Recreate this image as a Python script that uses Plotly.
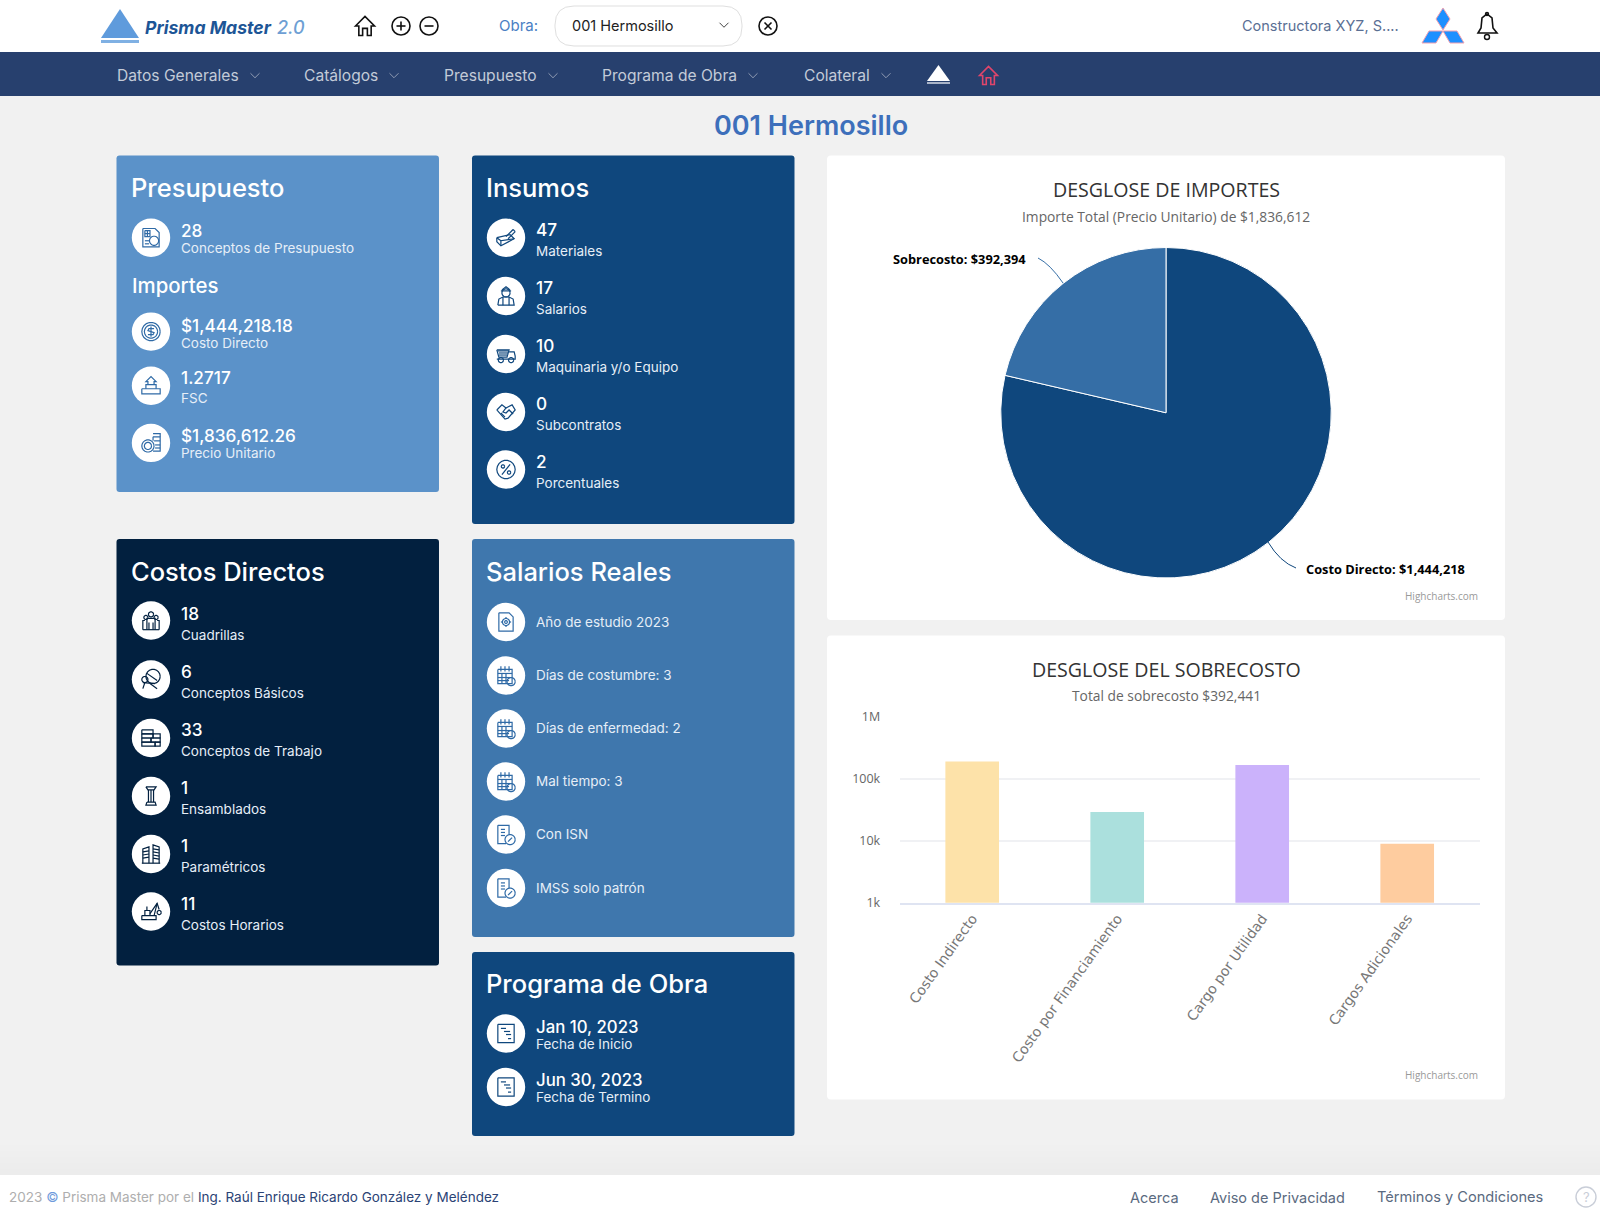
import math
import plotly.graph_objects as go

# ---------- data ----------
pie_labels = ["Costo Directo", "Sobrecosto"]
pie_values = [1444218, 392394]
bar_categories = ["Costo Indirecto", "Costo por Financiamiento", "Cargo por Utilidad", "Cargos Adicionales"]
bar_values = [189000, 29000, 165500, 8941]
bar_ticks = [1000, 10000, 100000, 1000000]
bar_tick_labels = ["1k", "10k", "100k", "1M"]

nav_labels = ["Datos Generales", "Catálogos", "Presupuesto", "Programa de Obra", "Colateral"]
presup_main = ["28", "$1,444,218.18", "1.2717", "$1,836,612.26"]
presup_sub = ["Conceptos de Presupuesto", "Costo Directo", "FSC", "Precio Unitario"]
insumos_main = ["47", "17", "10", "0", "2"]
insumos_sub = ["Materiales", "Salarios", "Maquinaria y/o Equipo", "Subcontratos", "Porcentuales"]
costos_main = ["18", "6", "33", "1", "1", "11"]
costos_sub = ["Cuadrillas", "Conceptos Básicos", "Conceptos de Trabajo", "Ensamblados", "Paramétricos", "Costos Horarios"]
salarios_items = ["Año de estudio 2023", "Días de costumbre: 3", "Días de enfermedad: 2", "Mal tiempo: 3", "Con ISN", "IMSS solo patrón"]
programa_main = ["Jan 10, 2023", "Jun 30, 2023"]
programa_sub = ["Fecha de Inicio", "Fecha de Termino"]

# ---------- page helpers (pixel space -> paper fractions) ----------
W, H = 1600, 1215
FONT = "Inter"
shapes, notes = [], []


def px(x):
    return x / W


def py(y):
    return 1 - y / H


def pt(x, y):
    return f"{px(x):.5f},{py(y):.5f}"


def rrect(x0, y0, x1, y1, fill, r=3, line=None, lw=1):
    d = (f"M{pt(x0 + r, y0)} L{pt(x1 - r, y0)} Q{pt(x1, y0)} {pt(x1, y0 + r)} "
         f"L{pt(x1, y1 - r)} Q{pt(x1, y1)} {pt(x1 - r, y1)} L{pt(x0 + r, y1)} "
         f"Q{pt(x0, y1)} {pt(x0, y1 - r)} L{pt(x0, y0 + r)} Q{pt(x0, y0)} {pt(x0 + r, y0)} Z")
    shapes.append(dict(type="path", path=d, xref="paper", yref="paper", fillcolor=fill,
                       line=dict(color=line or "rgba(0,0,0,0)", width=lw if line else 0), layer="below"))


def circle(cx, cy, r, fill="rgba(0,0,0,0)", line=None, lw=1.4):
    shapes.append(dict(type="circle", xref="paper", yref="paper", x0=px(cx - r), x1=px(cx + r),
                       y0=py(cy + r), y1=py(cy - r), fillcolor=fill,
                       line=dict(color=line or "rgba(0,0,0,0)", width=lw if line else 0), layer="below"))


def poly(points, fill="rgba(0,0,0,0)", line=None, lw=1.2, close=False):
    d = "M" + " L".join(pt(x, y) for x, y in points) + (" Z" if close else "")
    shapes.append(dict(type="path", path=d, xref="paper", yref="paper", fillcolor=fill,
                       line=dict(color=line or "rgba(0,0,0,0)", width=lw if line else 0), layer="below"))


def text(x, y, s, size=14, color="#ffffff", anchor="left", weight=400, family=FONT, angle=0, italic=False):
    if anchor == "left":
        x -= 1.5
    notes.append(dict(x=px(x), y=py(y), xref="paper", yref="paper", text=s, showarrow=False,
                      xanchor=anchor, yanchor="middle", align=anchor, textangle=angle, borderpad=0,
                      font=dict(size=size, color=color, family=family, weight=weight,
                                style="italic" if italic else "normal")))


def chevron(x, y, color, s=4.5):
    poly([(x - s, y - s / 2), (x, y + s / 2), (x + s, y - s / 2)], line=color, lw=1)


def home(x, y, color, s=10, lw=1.6):
    poly([(x - s, y), (x, y - s), (x + s, y), (x + s * .65, y), (x + s * .65, y + s), (x + s * .25, y + s),
          (x + s * .25, y + s * .25), (x - s * .25, y + s * .25), (x - s * .25, y + s), (x - s * .65, y + s),
          (x - s * .65, y)], line=color, lw=lw, close=True)


# ---------- icon glyphs, unit space about -10..10 ----------
def R(a, b, c, d):
    return [(a, b), (c, b), (c, d), (a, d), (a, b)]


def C(cx, cy, r, n=18):
    return [(cx + r * math.cos(2 * math.pi * i / n), cy + r * math.sin(2 * math.pi * i / n)) for i in range(n + 1)]


CAL = [R(-8, -6, 6, 8), [(-8, -2), (6, -2)], [(-8, 2), (4, 2)], [(-8, 5), (3, 5)], [(-4, -2), (-4, 8)], [(0, -2), (0, 8)],
       [(-5, -9), (-5, -4)], [(-1, -9), (-1, -4)], [(3, -9), (3, -4)], C(5, 6, 4)]
DOCCHK = [[(-8, -9), (3, -9), (3, 0)], [(-8, -9), (-8, 9), (0, 9)], [(-5, -5), (-1, -5)], [(-5, -2), (-1, -2)], [(-5, 1), (-1, 1)],
          C(4, 5, 5), [(2, 7), (6, 3)]]
GANTT = [R(-8, -9, 8, 9), [(-5, -5), (0, -5)], [(-2, -2), (4, -2)], [(0, 1), (5, 1)], [(2, 5), (5, 5)]]
ICONS = {
    "budget": [[(-8, -9), (4, -9), (8, -5), (8, 9), (-8, 9), (-8, -9)], R(-6, -7, -1, -1), [(-6, -4), (-1, -4)], [(-3.5, -7), (-3.5, -1)],
               C(3, 3, 4.5), [(-6, 3), (-2, 3)], [(-6, 6), (-2, 6)]],
    "dollar": [C(0, 0, 9), C(0, 0, 6.5), [(3, -3), (-2, -3), (-3, -1), (3, 1), (2, 3), (-3, 3)], [(0, -5), (0, 5)]],
    "scale": [R(-9, 3, 9, 8), [(-5, 3), (-5, -1), (5, -1), (5, 3)], [(-3, -1), (-3, -4), (-5, -4), (0, -9), (5, -4), (3, -4), (3, -1)]],
    "coins": [C(-3, 3, 6), C(-3, 3, 3.5), [(2, -6), (9, -6), (9, 8), (2, 8)], [(2, -6), (2, -2)], [(3, -2), (9, -2)], [(4, 2), (9, 2)], [(4, 5), (9, 5)],
              [(2, -9), (9, -9), (9, -6)]],
    "tools": [[(-9, 0), (4, -3), (8, 1), (-5, 8), (-9, 4), (-9, 0)], [(-5, 8), (-5, 3), (8, 1)], [(-5, 3), (-9, 0)], [(0, -1), (7, -8)], [(2, 1), (9, -6)], [(7, -8), (9, -6)]],
    "worker": [C(0, -3, 4), [(-5, -5), (5, -5)], [(-4, -6), (0, -9), (4, -6)], [(-8, 9), (-7, 3), (-3, 1), (3, 1), (7, 3), (8, 9), (-8, 9)], [(-3, 1), (-3, 9)], [(3, 1), (3, 9)]],
    "truck": [[(-9, -4), (3, -4), (1, 3), (-7, 3), (-9, -4)], [(3, -2), (8, -2), (9, 2), (9, 5), (-9, 5)], C(-5, 6, 2.5), C(5, 6, 2.5), [(-7, -1), (2, -1)], [(-7, 1), (1, 1)], [(-8, -3), (2, -3)]],
    "hands": [[(-9, -2), (-4, -7), (0, -4), (6, -7), (9, -2), (2, 6), (-1, 7), (-9, -2)], [(0, -4), (-3, 0), (0, 1), (3, -2), (7, 2)], [(-5, 1), (-1, 5)]],
    "percent": [C(0, 0, 9), C(-3, -3, 1.6), C(3, 3, 1.6), [(-4, 5), (4, -5)]],
    "people": [C(0, -6, 2.5), C(-5, -3, 2), C(5, -3, 2), [(-4, 9), (-4, -2), (4, -2), (4, 9)], [(-8, 9), (-8, 0), (-6, 0)], [(8, 9), (8, 0), (6, 0)], [(-2, 9), (-2, 2)], [(2, 9), (2, 2)], [(-8, 9), (8, 9)]],
    "mixer": [C(2, -3, 7), [(-4, -6), (6, 1)], C(-6, 0, 3), [(-6, 3), (-8, 9)], [(-1, 4), (6, 9)], [(-8, 3), (4, 4)]],
    "bricks": [R(-9, -8, 2, -4), R(2, -4, 9, 0), R(-9, -4, 2, 0), R(-9, 0, 0, 4), R(0, 0, 9, 4), R(-9, 4, 4, 8), R(4, 4, 9, 8)],
    "column": [[(-5, -9), (5, -9), (3, -6), (-3, -6), (-5, -9)], [(-2.5, -6), (-2.5, 6)], [(2.5, -6), (2.5, 6)], [(0, -6), (0, 6)], [(-4, 6), (4, 6), (5, 9), (-5, 9), (-4, 6)]],
    "towers": [[(-8, 9), (-8, -5), (-2, -7), (-2, 9)], [(2, 9), (2, -9), (8, -7), (8, 9)], [(-8, -2), (-2, -3)], [(-8, 1), (-2, 0)], [(-8, 4), (-2, 3)], [(2, -5), (8, -4)], [(2, -2), (8, -1)], [(2, 1), (8, 2)], [(2, 4), (8, 5)], [(-9, 9), (9, 9)]],
    "crane": [R(-9, 4, 5, 8), [(-6, 4), (-6, -1), (-1, -1), (-1, 4)], [(-1, 2), (6, -8), (8, -2)], C(8, 1, 2), [(3, 4), (6, -8)], [(-4, -1), (-4, -5)]],
    "gear": [[(-7, -9), (3, -9), (7, -5), (7, 9), (-7, 9), (-7, -9)], C(0, 0, 3.5), C(0, 0, 1.3), [(0, -5), (0, -3.5)], [(0, 3.5), (0, 5)], [(-5, 0), (-3.5, 0)], [(3.5, 0), (5, 0)]],
    "cal": CAL,
    "docchk": DOCCHK,
    "gantt": GANTT,
}


def icon(cx, cy, kind, color):
    circle(cx, cy, 19.2, fill="#ffffff")
    for line in ICONS[kind]:
        poly([(cx + x * 1.02, cy + y * 1.02) for x, y in line], line=color, lw=1.2)


# ---------- page chrome ----------
BG = "#f1f1f1"
NAVY = "#27406e"
for i, shade in enumerate(("#f0f0f0", "#efefef", "#eeeeee", "#ededed", "#ececec")):
    rrect(0, 1145 + 6 * i, W, 1175, shade, r=0)
rrect(0, 0, W, 52, "#ffffff", r=0)
rrect(0, 52, W, 96, NAVY, r=0)
rrect(0, 1175, W, H, "#ffffff", r=0)

# logo
poly([(120, 9), (139, 38), (101, 38)], fill="#5f9bdc", close=True)
rrect(101, 40, 139, 43, "#7fb0e3", r=0)
text(145, 27, "Prisma Master", 17.6, "#1d5596", weight=700, italic=True)
text(277, 27, "2.0", 18, "#6e9fd4", weight=500, italic=True)

home(365, 26, "#111111", s=9.5, lw=1.6)
for x in (401, 429):
    circle(x, 26, 9, line="#111111", lw=1.6)
    poly([(x - 4.5, 26), (x + 4.5, 26)], line="#111111", lw=1.6)
poly([(401, 21.5), (401, 30.5)], line="#111111", lw=1.6)

text(499, 26, "Obra:", 15, "#4a80c4")
rrect(555, 6, 742, 46, "#ffffff", r=19, line="#dfdfdf", lw=1)
text(572, 26, "001 Hermosillo", 14.5, "#222222")
chevron(724, 25, "#444444", 4.5)
circle(768, 26, 9, line="#111111", lw=1.6)
poly([(764.5, 22.5), (771.5, 29.5)], line="#111111", lw=1.6)
poly([(771.5, 22.5), (764.5, 29.5)], line="#111111", lw=1.6)

text(1242, 26, "Constructora XYZ, S....", 14.5, "#5a6f94")
LOGO = "#1e90ff"
EDGE = "#f2a0b0"
poly([(1443, 8), (1450, 19), (1443, 30), (1436, 19)], fill=LOGO, line=EDGE, lw=1, close=True)
poly([(1429, 31), (1443, 31), (1436, 43), (1422, 43)], fill=LOGO, line=EDGE, lw=1, close=True)
poly([(1443, 31), (1457, 31), (1464, 43), (1450, 43)], fill=LOGO, line=EDGE, lw=1, close=True)
poly([(1487, 14), (1482, 18), (1481, 28), (1478, 33), (1497, 33), (1493, 28), (1492, 18)], fill="#ffffff", line="#111111", lw=1.6, close=True)
circle(1487, 37, 2.5, line="#111111", lw=1.4)
circle(1487, 14, 1.5, line="#111111", lw=1.4)

# nav
nav_x = [117.5, 304.5, 445, 602.5, 804]
chev_x = [255, 394, 553, 753, 886]
for x, cx, s in zip(nav_x, chev_x, nav_labels):
    text(x, 75, s, 15.6, "#c3cbd8")
    chevron(cx, 75.5, "#8f9bb3", 4.5)
poly([(938.5, 65), (950, 81), (927, 81)], fill="#ffffff", close=True)
rrect(927, 82, 950, 84, "#a9b4c8", r=0)
home(988.5, 75.5, "#e0456b", s=9, lw=1.6)

text(811, 125.5, "001 Hermosillo", 27, "#3d6fbb", anchor="center", weight=600)

# ---------- cards ----------
LX, MX = 116.5, 472
CW = 322.5
C_LIGHT, C_NAVY, C_DARK, C_MID = "#5b92c9", "#0f477d", "#02203f", "#3f77ad"
rrect(LX, 155.5, LX + CW, 492, C_LIGHT)
rrect(MX, 155.5, MX + CW, 524, C_NAVY)
rrect(LX, 539, LX + CW, 965.5, C_DARK)
rrect(MX, 539, MX + CW, 937, C_MID)
rrect(MX, 952, MX + CW, 1136, C_NAVY)
rrect(827, 155.5, 1505, 620, "#ffffff", r=4)
rrect(827, 635.5, 1505, 1099.5, "#ffffff", r=4)

HEAD = 25.5
HW = 500
LTX, LIX = 181, 151
MTX, MIX = 536, 506

text(131.5, 187.5, "Presupuesto", HEAD, weight=HW)
icon(LIX, 237.7, "budget", "#2f6aa6")
text(LTX, 231, presup_main[0], 17.2, weight=500)
text(LTX, 248, presup_sub[0], 13.5, "#e6eef7")
text(132, 285.5, "Importes", 20.4, weight=HW)
for main, sub, iy, my, sy, kind in zip(presup_main[1:], presup_sub[1:], (331.6, 385.7, 442.9), (325.5, 377.5, 435.7),
                                       (342.5, 398, 453), ("dollar", "scale", "coins")):
    icon(LIX, iy, kind, "#2f6aa6")
    text(LTX, my, main, 17.2, weight=500)
    text(LTX, sy, sub, 13.5, "#e6eef7")

text(486.5, 187.5, "Insumos", HEAD, weight=HW)
for main, sub, iy, my, sy, kind in zip(insumos_main, insumos_sub, (237.7, 296, 354, 412, 469.5), (229.5, 287.5, 345.5, 403, 461),
                                       (251, 308.5, 367, 424.5, 483), ("tools", "worker", "truck", "hands", "percent")):
    icon(MIX, iy, kind, C_NAVY)
    text(MTX, my, main, 17.2, weight=500)
    text(MTX, sy, sub, 13.5, "#e6eef7")

text(131.5, 571.5, "Costos Directos", HEAD, weight=HW)
for main, sub, iy, my, sy, kind in zip(costos_main, costos_sub, (620.5, 679.5, 738, 796, 854, 911.5), (613.5, 671, 729.5, 787, 845, 903),
                                       (635, 692.5, 751, 808.5, 867, 925), ("people", "mixer", "bricks", "column", "towers", "crane")):
    icon(LIX, iy, kind, C_DARK)
    text(LTX, my, main, 17.2, weight=500)
    text(LTX, sy, sub, 13.5, "#e6eef7")

text(486.5, 571.5, "Salarios Reales", HEAD, weight=HW)
for s, iy, kind in zip(salarios_items, (622, 675.5, 728.5, 781.5, 834.5, 888), ("gear", "cal", "cal", "cal", "docchk", "docchk")):
    icon(MIX, iy, kind, "#2f6aa6")
    text(MTX, iy, s, 13.5, "#e6eef7")

text(486.5, 983.5, "Programa de Obra", HEAD, weight=HW)
for main, sub, iy, my, sy in zip(programa_main, programa_sub, (1033.5, 1087), (1026.5, 1079.5), (1044, 1097)):
    icon(MIX, iy, "gantt", C_NAVY)
    text(MTX, my, main, 16.8, weight=500)
    text(MTX, sy, sub, 13.5, "#e6eef7")

# ---------- chart texts ----------
CHART_FONT = "Open Sans"
text(1166, 190, "DESGLOSE DE IMPORTES", 19.6, "#333333", "center", family=CHART_FONT)
text(1166, 216.5, "Importe Total (Precio Unitario) de $1,836,612", 13.8, "#666666", "center", family=CHART_FONT)
text(1027, 258.5, f"{pie_labels[1]}: ${pie_values[1]:,}", 12.8, "#000000", "right", weight=700, family=CHART_FONT)
text(1306, 569, f"{pie_labels[0]}: ${pie_values[0]:,}", 12.8, "#000000", "left", weight=700, family=CHART_FONT)
shapes.append(dict(type="path", xref="paper", yref="paper", layer="above",
                   path=f"M{pt(1038, 258)} Q{pt(1050, 264)} {pt(1063, 283)}",
                   line=dict(color="#356ea6", width=1), fillcolor="rgba(0,0,0,0)"))
shapes.append(dict(type="path", xref="paper", yref="paper", layer="above",
                   path=f"M{pt(1268, 542)} Q{pt(1280, 562)} {pt(1296, 568)}",
                   line=dict(color="#0f477d", width=1), fillcolor="rgba(0,0,0,0)"))
text(1479, 596, "Highcharts.com", 10, "#999999", "right", family=CHART_FONT)

text(1166, 669, "DESGLOSE DEL SOBRECOSTO", 19.6, "#333333", "center", family=CHART_FONT)
text(1166, 695.5, "Total de sobrecosto $392,441", 13.8, "#666666", "center", family=CHART_FONT)
text(1479, 1075, "Highcharts.com", 10, "#999999", "right", family=CHART_FONT)

# ---------- footer ----------
text(9.5, 1197, "2023 <span style='color:#6f9bdc'>©</span> Prisma Master por el <span style='color:#2b4375'>Ing. Raúl Enrique Ricardo González y Meléndez</span>",
     13.5, "#aeaeae")
text(1130, 1197, "Acerca", 14.5, "#5a6a80")
text(1210, 1197, "Aviso de Privacidad", 14.5, "#5a6a80")
text(1377, 1197, "Términos y Condiciones", 14.6, "#5a6a80")
circle(1586, 1197, 10, line="#c9ced8", lw=1.4)
text(1586, 1197, "?", 13, "#c9ced8", "center")

# ---------- traces ----------
pie = go.Pie(labels=pie_labels, values=pie_values, sort=False, direction="clockwise", rotation=0,
             marker=dict(colors=["#0f477d", "#356ea6"], line=dict(color="#ffffff", width=1)),
             textinfo="none", showlegend=False, hole=0,
             domain=dict(x=[px(1000.5), px(1331.5)], y=[py(578), py(247.5)]))
bars = go.Bar(x=bar_categories, y=bar_values, width=0.37, showlegend=False,
              marker=dict(color=["#fde2a9", "#abe0dd", "#cbb2fb", "#fecc9f"], line=dict(width=0)))

fig = go.Figure([bars, pie])
fig.update_layout(
    width=W, height=H, margin=dict(l=0, r=0, t=0, b=0, autoexpand=False), autosize=False,
    paper_bgcolor=BG, plot_bgcolor="rgba(0,0,0,0)",
    shapes=shapes, annotations=notes, showlegend=False,
    xaxis=dict(domain=[px(899.7), px(1479.7)], type="category", tickangle=-54.5, showgrid=False, zeroline=False,
               showline=True, linecolor="#dfe4f2", linewidth=2, ticks="",
               tickfont=dict(family="DejaVu Sans", size=14, color="#777777"), range=[-0.5, 3.5]),
    yaxis=dict(domain=[py(902.8), py(716.5)], type="log", range=[3, 6], tickmode="array", tickvals=bar_ticks,
               ticktext=bar_tick_labels, gridcolor="#f0f1f4", gridwidth=2, zeroline=False, showline=False,
               ticks="outside", ticklen=16, tickcolor="rgba(0,0,0,0)",
               tickfont=dict(family=CHART_FONT, size=12.5, color="#666666")),
    font=dict(family=FONT),
)
fig.write_html("out.html", config=dict(displayModeBar=False),
               post_script="document.body.style.margin='0';document.body.style.overflow='hidden';")
